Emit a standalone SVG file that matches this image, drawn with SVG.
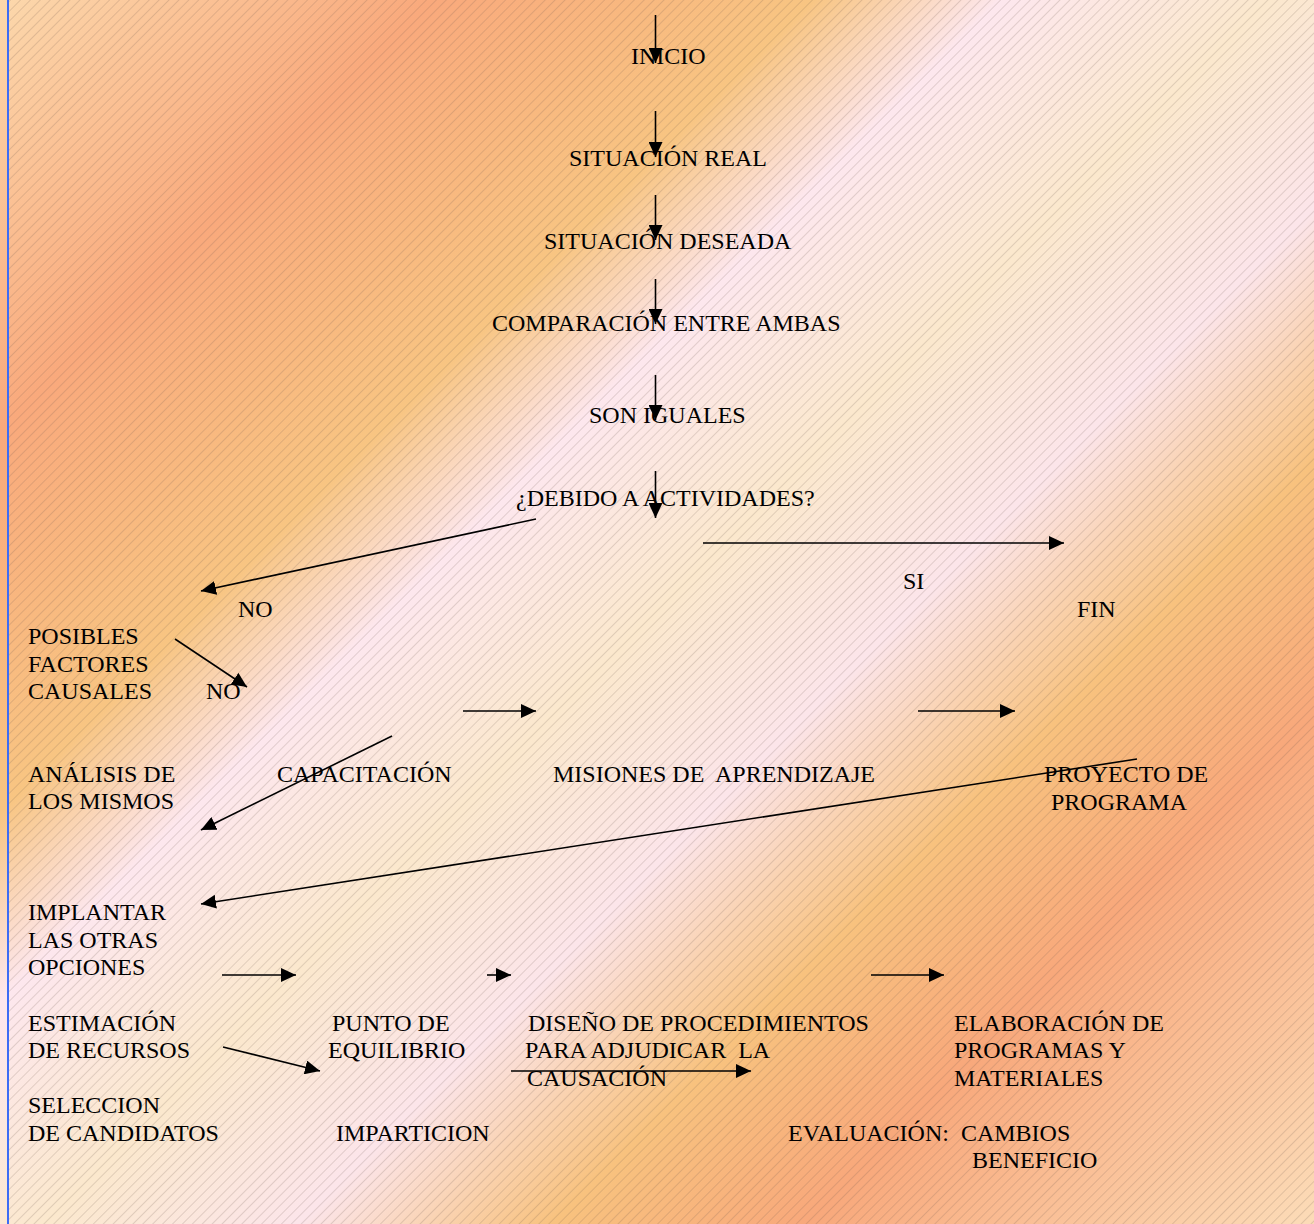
<svg xmlns="http://www.w3.org/2000/svg" width="1314" height="1224" viewBox="0 0 1314 1224">
<defs>
<linearGradient id="bg" gradientUnits="userSpaceOnUse" x1="0" y1="0" x2="1269" y2="1269">
<stop offset="0" stop-color="#fcd8ac"/>
<stop offset="0.17" stop-color="#f9a97c"/>
<stop offset="0.32" stop-color="#f8c582"/>
<stop offset="0.395" stop-color="#fde7ee"/>
<stop offset="0.5" stop-color="#fbe8cd"/>
<stop offset="0.6" stop-color="#fce5ea"/>
<stop offset="0.7" stop-color="#f8c27e"/>
<stop offset="0.8" stop-color="#f8a87b"/>
<stop offset="1" stop-color="#fcdcb8"/>
</linearGradient>
<pattern id="hatch" patternUnits="userSpaceOnUse" width="10" height="7" patternTransform="rotate(-45)">
<line x1="0" y1="0.5" x2="10" y2="0.5" stroke="#6e5a50" stroke-width="0.5" stroke-opacity="0.4"/>
</pattern>
<marker id="ah" markerUnits="userSpaceOnUse" markerWidth="15" markerHeight="14" refX="15" refY="7" orient="auto">
<path d="M0,0 L15,7 L0,14 z" fill="#000"/>
</marker>
<style>
text{font-family:"Liberation Serif","Times New Roman",serif;font-size:24px;fill:#000;}
.c line{stroke:#000;stroke-width:1.6;marker-end:url(#ah);}
</style>
</defs>
<rect x="0" y="0" width="1314" height="1224" fill="url(#bg)"/>
<rect x="9" y="0" width="1305" height="1224" fill="url(#hatch)"/>
<line x1="8" y1="0" x2="8" y2="1224" stroke="#3d6cf5" stroke-width="2"/>

<g id="n-inicio"><text x="631" y="64">INICIO</text></g>
<g id="n-real"><text x="569" y="166">SITUACIÓN REAL</text></g>
<g id="n-deseada"><text x="544" y="249">SITUACIÓN DESEADA</text></g>
<g id="n-comparacion"><text x="492" y="331">COMPARACIÓN ENTRE AMBAS</text></g>
<g id="n-iguales"><text x="589" y="423">SON IGUALES</text></g>
<g id="n-debido"><text x="516" y="506">¿DEBIDO A ACTIVIDADES?</text></g>
<g id="l-no1"><text x="238" y="617">NO</text></g>
<g id="l-si"><text x="903" y="589">SI</text></g>
<g id="n-fin"><text x="1077" y="617">FIN</text></g>
<g id="n-posibles"><text x="28" y="644">POSIBLES</text><text x="28" y="672">FACTORES</text><text x="28" y="699">CAUSALES</text></g>
<g id="l-no2"><text x="206" y="699">NO</text></g>
<g id="n-analisis"><text x="28" y="782">ANÁLISIS DE</text><text x="28" y="809">LOS MISMOS</text></g>
<g id="n-capacitacion"><text x="277" y="782">CAPACITACIÓN</text></g>
<g id="n-misiones"><text x="553" y="782" xml:space="preserve">MISIONES DE  APRENDIZAJE</text></g>
<g id="n-proyecto"><text x="1044" y="782">PROYECTO DE</text><text x="1051" y="810">PROGRAMA</text></g>
<g id="n-implantar"><text x="28" y="920">IMPLANTAR</text><text x="28" y="948">LAS OTRAS</text><text x="28" y="975">OPCIONES</text></g>
<g id="n-estimacion"><text x="28" y="1031">ESTIMACIÓN</text><text x="28" y="1058">DE RECURSOS</text></g>
<g id="n-punto"><text x="332" y="1031">PUNTO DE</text><text x="328" y="1058">EQUILIBRIO</text></g>
<g id="n-diseno"><text x="528" y="1031">DISEÑO DE PROCEDIMIENTOS</text><text x="525" y="1058" xml:space="preserve">PARA ADJUDICAR  LA</text><text x="527" y="1086">CAUSACIÓN</text></g>
<g id="n-elaboracion"><text x="954" y="1031">ELABORACIÓN DE</text><text x="954" y="1058">PROGRAMAS Y</text><text x="954" y="1086">MATERIALES</text></g>
<g id="n-seleccion"><text x="28" y="1113">SELECCION</text><text x="28" y="1141">DE CANDIDATOS</text></g>
<g id="n-imparticion"><text x="336" y="1141">IMPARTICION</text></g>
<g id="n-evaluacion"><text x="788" y="1141" xml:space="preserve">EVALUACIÓN:  CAMBIOS</text><text x="972" y="1168">BENEFICIO</text></g>

<g id="connectors" class="c">
<line x1="655.5" y1="15" x2="655.5" y2="63"/>
<line x1="655.5" y1="111" x2="655.5" y2="157"/>
<line x1="655.5" y1="195" x2="655.5" y2="240"/>
<line x1="655.5" y1="279" x2="655.5" y2="324"/>
<line x1="655.5" y1="375" x2="655.5" y2="420"/>
<line x1="655.5" y1="471" x2="655.5" y2="518"/>
<line x1="536" y1="519" x2="201" y2="591"/>
<line x1="703" y1="543" x2="1064" y2="543"/>
<line x1="175" y1="639" x2="247" y2="687"/>
<line x1="392" y1="736" x2="201" y2="830"/>
<line x1="463" y1="711" x2="536" y2="711"/>
<line x1="918" y1="711" x2="1015" y2="711"/>
<line x1="1137" y1="759" x2="201" y2="904"/>
<line x1="222" y1="975" x2="296" y2="975"/>
<line x1="487" y1="975" x2="511" y2="975"/>
<line x1="871" y1="975" x2="944" y2="975"/>
<line x1="223" y1="1047" x2="320" y2="1071"/>
<line x1="511" y1="1071" x2="751" y2="1071"/>
</g>
</svg>
